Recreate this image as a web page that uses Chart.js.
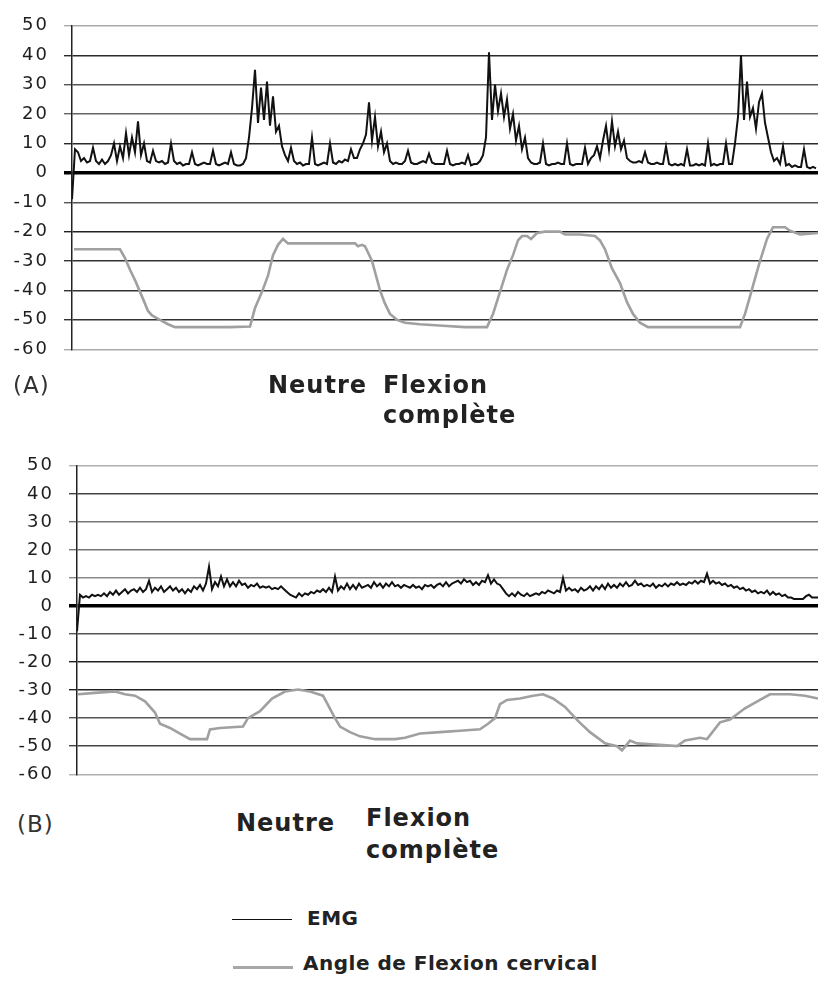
<!DOCTYPE html>
<html>
<head>
<meta charset="utf-8">
<script src="https://cdn.jsdelivr.net/npm/chart.js@4.4.0/dist/chart.umd.min.js"></script>
<style>
  body { margin: 0; background: #fff; width: 819px; height: 981px; position: relative; overflow: hidden;
         font-family: "DejaVu Sans", sans-serif; color: #222; }
  canvas { position: absolute; left: 0; }
  #chartA { top: 0; }
  #chartB { top: 440px; }
  .lbl { position: absolute; line-height: 1; white-space: nowrap; }
  .cap { font-size: 23px; color: #333; letter-spacing: 1px; }
  .pos { font-size: 24px; font-weight: bold; letter-spacing: 1px; }
  .leg { font-size: 20px; font-weight: bold; letter-spacing: 0.5px; }
  .sw { position: absolute; width: 60px; }
</style>
</head>
<body>
<canvas id="chartA" width="819" height="375"></canvas>
<canvas id="chartB" width="819" height="360"></canvas>

<div class="lbl cap" style="left:13px;top:374px">(A)</div>
<div class="lbl pos" style="left:268px;top:373px">Neutre</div>
<div class="lbl pos" style="left:383px;top:373px">Flexion</div>
<div class="lbl pos" style="left:383px;top:403px">complète</div>

<div class="lbl cap" style="left:17px;top:813px">(B)</div>
<div class="lbl pos" style="left:236px;top:811px">Neutre</div>
<div class="lbl pos" style="left:366px;top:806px">Flexion</div>
<div class="lbl pos" style="left:366px;top:838px">complète</div>

<div class="sw" style="left:232px;top:919px;border-top:1.5px solid #111"></div>
<div class="lbl leg" style="left:307px;top:908px">EMG</div>
<div class="sw" style="left:233px;top:966px;border-top:3px solid #a8a8a8"></div>
<div class="lbl leg" style="left:303px;top:953px">Angle de Flexion cervical</div>

<script>
// y axis ticks (both panels)
const yTicks = [50, 40, 30, 20, 10, 0, -10, -20, -30, -40, -50, -60];

// EMG, one sample every 3 time units
const emgStep = 3;
const emgA = [-9,8,7,4,5,3.5,4,8.5,4,3, 4.5,3,4,6,10,4,9,5,13.5,6, 12,7,17.5,6,10,4,3.5,7.5,4,3.5,
  4,3,3.5,10,4,3,3.5,2.5,3,3, 7,3,2.5,3,3.5,3,3,7.5,3,2.5, 3,3.5,3,7,3,2.5,2.5,3,5,12,
  22,35,17,29,18,31,16,26,14,16, 9,6,4,8.5,4,3,3.5,2.5,3,3, 12,3,2.5,3,3.5,3,10,3.5,3,4,
  3.5,4.5,4,8,5,5,8,10,13,24, 11,19,9,14,7,10,4,3,3.5,3, 3,4,7.5,3.5,3,3,3.5,4,3.5,6.5,
  3.5,3,3,3,3,7.5,3,2.5,3,3, 3.5,3,6,2.5,3,3,4,6,12,41, 18,30,21,27,19,25,15,20,11,16,
  8,12,5,3.5,3,3,3.5,10,3,2.5, 3,3,3.5,3,3,10,3,2.5,3,3, 3,8.5,3,5,6,9,5,11,16,8,
  17.5,9,14,8,11,5,4,3.5,3.5,4, 3.5,7,3.5,3,3,3.5,3,3,9,3, 2.5,3,2.5,3,2.5,8,2.5,2.5,3,2.5,
  3,2.5,10,2.5,3,2.5,3,3,10,3, 3,10,19,40,18,31,19,22,15,24, 27,17,12,7,4,5,3,9,2.5,3,
  2,2.5,2,2,8,2,1.5,2,1.5];
const emgB = [-9,4,3,3.5,3,4,3.5,4,3.5,4.5, 3.5,5,4,5.5,4,5,6,4.5,5.5,6, 5,6.5,5,6,9,5,6.5,5.5,7,5,
  6,7,5.5,6.5,5,6,4.5,6,5,7, 6,7.5,5.5,8,14,6,8.5,7,10.5,7, 9.5,7,8.5,7,9,7.5,8,6.5,7.5,7,
  8,6.5,7,6.5,7,6,6.5,6,7,6, 5,4,3.5,3,4.5,3.5,4.5,4,5,4.5, 5.5,5,6,5,6.5,5,10.5,5.5,7,6,
  8,6,7.5,6,8,6.5,7,7.5,6.5,8.5, 7,8,6.5,8,7,8.5,7,7.5,6.5,7.5, 7,6.5,7.5,6.5,7,6,7.5,7,7.5,6.5,
  7.5,8,7,8.5,7,8,8.5,9,8,9.5, 8.5,9,7.5,8.5,7.5,9,8.5,11,8,9.5, 8,7.5,6,4.5,3.5,4.5,3.5,5,4,3.5,
  4.5,3.5,4,4.5,4,5,4.5,5.5,5,4.5, 5.5,5,10,5.5,6.5,5.5,6,5,6.5,5.5, 6,7,5.5,7,6,7.5,6,8,6.5,7.5,
  6.5,8,7,8.5,7,7.5,9,7.5,8,7, 7.5,7,8,6.5,7.5,7,8,7,8,7.5, 8.5,7.5,8,7.5,8.5,8,9,8,9,8.5,
  11.5,8,9,8,8.5,7.5,8,7,7.5,6.5, 7,6,6.5,5.5,6,5,5.5,4.5,5,4.5, 5.5,4,5,4,4.5,3.5,4,3,3,2.5,
  2.5,2.5,2.5,3.5,4,3,3,3];

// cervical flexion angle (time, degrees)
const angleTimeA = [2,48,53,58,63,68,73,76,80,88,96,103,128,158,178,183,190,196,201,206,211,216,248,283,286,290,293,
  300,308,313,318,325,333,348,371,393,415,421,428,435,441,446,450,455,459,465,473,488,493,508,523,528,533,
  540,548,555,561,568,576,628,668,673,678,683,688,695,701,713,718,728,746];
const angleA = [-26,-26,-29,-33,-36.5,-40.5,-44.5,-47,-48.5,-50,-51.5,-52.5,-52.5,-52.5,-52.3,-46,-40.5,-35,-28,-24.5,-22.5,-24,-24,-24,-25,-24.5,-25,
  -30,-40,-44.5,-48,-50,-51,-51.5,-52,-52.5,-52.5,-48,-40.5,-33,-28,-23,-21.5,-21.5,-22.5,-20.5,-20,-20,-21,-21,-21.5,-23,-26,
  -32.5,-37.5,-44,-48,-51,-52.5,-52.5,-52.5,-48,-42,-36,-30,-22.5,-18.5,-18.5,-19.7,-21,-20.5];
const angleTimeB = [1,18,38,48,58,68,78,83,93,103,113,130,133,143,166,171,183,195,208,221,233,246,258,263,273,283,298,318,328,
  343,363,383,403,411,418,423,430,443,456,466,476,488,501,513,528,540,545,553,560,583,600,608,623,630,
  643,653,668,683,693,713,728,741];
const angleB = [-31.5,-31,-30.5,-31.5,-32,-34,-38,-42,-43.5,-45.5,-47.5,-47.5,-44,-43.5,-43,-40,-37.5,-33,-30.5,-29.8,-30.5,-32,-40,-43,-45,-46.5,-47.5,-47.5,-47,
  -45.5,-45,-44.5,-44,-42,-40,-35,-33.5,-33,-32,-31.5,-33,-36,-41,-45,-49,-50,-51.5,-48,-49,-49.5,-50,-48,-47,-47.5,
  -41.5,-40.5,-36.5,-33.5,-31.5,-31.5,-32,-33];

// gridline shades, same order as yTicks
const gridA = ['#aaa','#2a2a2a','#555','#666','#2a2a2a','#000','#555','#222','#333','#333','#333','#aaa'];
const gridB = ['#b0b0b0','#444','#777','#777','#888','#000','#555','#222','#222','#555','#444','#b0b0b0'];

// wider tick text like the scanned figure
const spacing = {
  id: 'spacing',
  beforeDraw(chart) { chart.ctx.letterSpacing = '2px'; }
};

function makeChart(id, emg, angT, ang, maxT, axisW, padTop, padBottom, shades) {
  const shade = (v) => shades[yTicks.indexOf(v)] || '#444';
  return new Chart(document.getElementById(id), {
    type: 'line',
    data: {
      datasets: [
        {
          label: 'EMG',
          data: emg.map((v, i) => ({ x: i * emgStep, y: v })),
          borderColor: '#111',
          borderWidth: 2,
          pointRadius: 0,
        },
        {
          label: 'Angle de Flexion cervical',
          data: ang.map((v, i) => ({ x: angT[i], y: v })),
          borderColor: '#a0a0a0',
          borderWidth: 2.6,
          pointRadius: 0,
        },
      ],
    },
    options: {
      responsive: false,
      animation: false,
      events: [],
      layout: { padding: { top: padTop, bottom: padBottom, left: 0, right: 1 } },
      plugins: { legend: { display: false }, tooltip: { enabled: false } },
      scales: {
        x: { type: 'linear', min: 0, max: maxT, display: false },
        y: {
          min: -60,
          max: 50,
          afterFit(scale) { scale.width = axisW; },
          ticks: {
            stepSize: 10,
            padding: 15,
            color: '#1e1e1e',
            font: { family: 'DejaVu Sans', size: 18 },
          },
          grid: {
            color: (c) => shade(c.tick.value),
            lineWidth: (c) => (c.tick.value === 0 ? 3.5 : 1.4),
            tickLength: 8,
          },
          border: { display: true, color: '#222', width: 1.5 },
        },
      },
    },
    plugins: [spacing],
  });
}

makeChart('chartA', emgA, angleTimeA, angleA, 746, 72, 22, 13, gridA);
makeChart('chartB', emgB, angleTimeB, angleB, 741, 77, 24, 15, gridB);
</script>
</body>
</html>
